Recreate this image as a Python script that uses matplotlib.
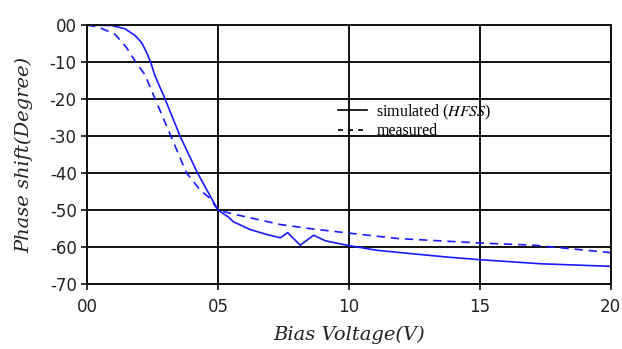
import matplotlib
matplotlib.use("Agg")
import matplotlib.pyplot as plt
from matplotlib.lines import Line2D

# simulated (HFSS) phase shift vs bias voltage
sim_v = [0.0, 0.94, 1.45, 1.83, 2.09, 2.28, 2.43, 2.6, 2.98, 3.55, 4.22,
         4.57, 5.0, 5.38, 5.6, 6.24, 6.87, 7.38, 7.66, 8.14, 8.65, 9.1, 10.0,
         11.1, 13.75, 15.0, 17.3, 20.0]
sim_deg = [0.0, -0.1, -1.0, -2.8, -4.8, -7.5, -10.1, -13.8, -20.0, -30.0,
           -40.0, -44.5, -50.0, -51.8, -53.2, -55.3, -56.6, -57.5, -56.1,
           -59.5, -56.8, -58.3, -59.6, -60.9, -62.7, -63.4, -64.5, -65.2]

# measured phase shift
meas_v = [0.0, 0.43, 1.07, 1.51, 1.83, 2.21, 2.6, 3.2, 3.8, 4.31, 4.69, 5.0,
          5.6, 6.37, 7.38, 8.5, 10.1, 11.9, 15.0, 17.1, 20.0]
meas_deg = [0.0, -0.5, -2.5, -6.1, -9.7, -13.4, -20.0, -30.0, -40.0, -44.5,
            -46.8, -50.0, -51.1, -52.3, -53.9, -55.0, -56.3, -57.7, -58.9,
            -59.5, -61.5]

x_ticks = [0, 5, 10, 15, 20]
x_labels = ["00", "05", "10", "15", "20"]
y_ticks = [0, -10, -20, -30, -40, -50, -60, -70]
y_labels = ["00", "-10", "-20", "-30", "-40", "-50", "-60", "-70"]

plt.rcParams["mathtext.fontset"] = "stix"

fig = plt.figure(figsize=(6.22, 3.49), dpi=100)
ax = fig.add_axes([0.14, 0.186, 0.842, 0.742])

blue = "#1a1aff"
ax.plot(sim_v, sim_deg, color=blue, lw=1.2)
ax.plot(meas_v, meas_deg, color=blue, lw=1.2, ls=(0, (5, 3.5)))

ax.set_xlim(0, 20)
ax.set_ylim(-70, 0)
ax.set_xticks(x_ticks)
ax.set_xticklabels(x_labels)
ax.set_yticks(y_ticks)
ax.set_yticklabels(y_labels)
ax.tick_params(axis="both", labelsize=12, length=4, width=1.3,
               color="#222222", labelcolor="#222222")
ax.tick_params(axis="x", pad=6)
ax.grid(True, color="#111111", lw=1.4)
ax.set_axisbelow(True)
for s in ax.spines.values():
    s.set_color("#111111")
    s.set_linewidth(1.4)

ax.set_xlabel("Bias Voltage(V)", family="DejaVu Serif", style="italic",
              fontsize=14, color="#222222", labelpad=7)
ax.set_ylabel("Phase shift(Degree)", family="DejaVu Serif", style="italic",
              fontsize=14, color="#222222", labelpad=12)

handles = [Line2D([], [], color="black", lw=1.2),
           Line2D([], [], color="black", lw=1.2, ls=(0, (3, 3)))]
leg = ax.legend(handles, ["simulated ($\\it{HFSS}$)", "measured"],
                loc="upper left", bbox_to_anchor=(0.479, 0.702),
                borderpad=0, borderaxespad=0,
                frameon=False, handlelength=1.8, handletextpad=0.6,
                labelspacing=0.1, prop={"family": "Liberation Serif", "size": 11.5})

fig.savefig("out.png", dpi=100)
